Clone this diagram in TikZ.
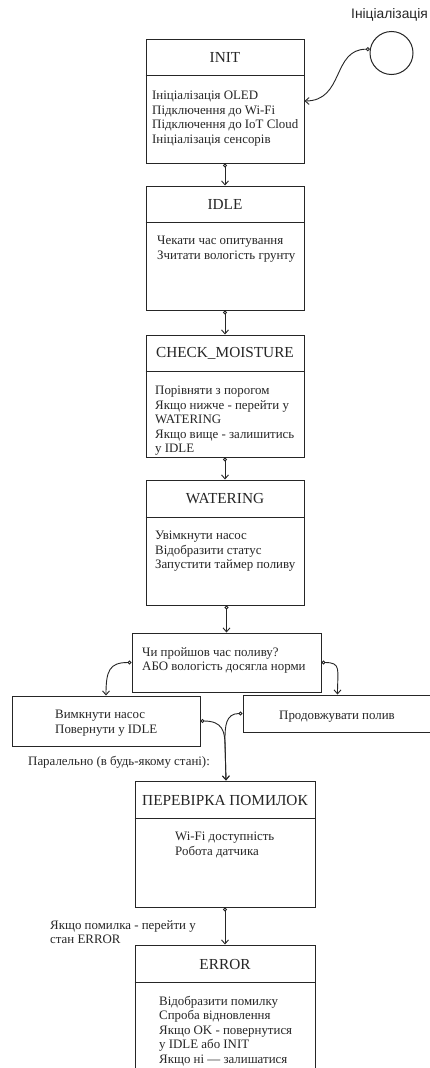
\documentclass[tikz,border=0pt]{standalone}
\usepackage{fontspec}
\setmainfont{Liberation Serif}
\newfontfamily\lsans{Liberation Sans}
\usetikzlibrary{arrows.meta,calc}
\begin{document}
\begin{tikzpicture}[x=1pt,y=-1pt,
  box/.style={draw=black!85, line width=1pt, rectangle, inner sep=0pt},
  hdr/.style={font=\fontsize{15.3}{17}\selectfont, text=black!85, inner sep=0pt},
  body/.style={font=\fontsize{12.9}{14.5}\selectfont, text=black!85, align=left, inner sep=0pt, anchor=north west},
  conn/.style={draw=black!85, line width=0.9pt, {Circle[open,length=4pt,width=4pt]}-{Straight Barb[length=4pt,width=7pt]}},
]
\useasboundingbox (0,0) rectangle (429,1068);
\fill[white] (0,0) rectangle (429,1068);

% start circle
\node[draw=black!85, line width=1pt, circle, minimum size=43pt, inner sep=0pt] (initc) at (391.5,53) {};
\node[font=\lsans\fontsize{13.8}{16}\selectfont, text=black!85, anchor=west, inner sep=0pt] (initlbl) at (351,15) {Ініціалізація};

% INIT
\node[box, minimum width=158pt, minimum height=124pt] (init) at (225,101) {};
\draw[black!85, line width=1pt] ($(init.north west)+(0,37)$) -- ($(init.north east)+(0,37)$);
\node[hdr] (inith) at (225,57.5) {INIT};
\node[body] (initb) at (152,91) {Ініціалізація OLED\\Підключення до Wi-Fi\\Підключення до IoT Cloud\\Ініціалізація сенсорів};

% IDLE
\node[box, minimum width=158pt, minimum height=124pt] (idle) at (225,248) {};
\draw[black!85, line width=1pt] ($(idle.north west)+(0,37)$) -- ($(idle.north east)+(0,37)$);
\node[hdr] (idleh) at (225,204.5) {IDLE};
\node[body] (idleb) at (157,236) {Чекати час опитування\\Зчитати вологість грунту};

% CHECK_MOISTURE
\node[box, minimum width=158pt, minimum height=122pt] (check) at (225,396) {};
\draw[black!85, line width=1pt] ($(check.north west)+(0,37)$) -- ($(check.north east)+(0,37)$);
\node[hdr] (checkh) at (225,353.5) {CHECK\_MOISTURE};
\node[body] (checkb) at (155,386) {Порівняти з порогом\\Якщо нижче - перейти у\\WATERING\\Якщо вище - залишитись\\у IDLE};

% WATERING
\node[box, minimum width=158pt, minimum height=125pt] (water) at (225,542.5) {};
\draw[black!85, line width=1pt] ($(water.north west)+(0,38)$) -- ($(water.north east)+(0,38)$);
\node[hdr] (waterh) at (225,499) {WATERING};
\node[body] (waterb) at (155,531) {Увімкнути насос\\Відобразити статус\\Запустити таймер поливу};

% decision
\node[box, minimum width=189pt, minimum height=59pt] (dec) at (226.5,662.5) {};
\node[body] (decb) at (142,647) {Чи пройшов час поливу?\\АБО вологість досягла норми};

% left / right
\node[box, minimum width=188pt, minimum height=50pt] (left) at (106,721) {};
\node[body] (leftb) at (55,710) {Вимкнути насос\\Повернути у IDLE};
\node[box, minimum width=189pt, minimum height=37pt] (right) at (337.5,713.5) {};
\node[body] (rightb) at (279,711) {Продовжувати полив};

\node[body] (par) at (28,756) {Паралельно (в будь-якому стані):};

% ПЕРЕВІРКА
\node[box, minimum width=180pt, minimum height=126pt] (per) at (225,844) {};
\draw[black!85, line width=1pt] ($(per.north west)+(0,38)$) -- ($(per.north east)+(0,38)$);
\node[hdr] (perh) at (225,800) {ПЕРЕВІРКА ПОМИЛОК};
\node[body] (perb) at (175,832) {Wi-Fi доступність\\Робота датчика};

\node[body] (errlbl) at (50,920) {Якщо помилка - перейти у\\стан ERROR};

% ERROR
\node[box, minimum width=180pt, minimum height=130pt] (err) at (225,1010) {};
\draw[black!85, line width=1pt] ($(err.north west)+(0,38)$) -- ($(err.north east)+(0,38)$);
\node[hdr] (errh) at (225,964) {ERROR};
\node[body] (errb) at (159,996) {Відобразити помилку\\Спроба відновлення\\Якщо OK - повернутися\\у IDLE або INIT\\Якщо ні — залишатися};

% connectors
\draw[conn] (initc.170) .. controls +(-38,0) and +(40,0) .. (init.east);
\draw[conn] (init.south) -- (idle.north);
\draw[conn] (idle.south) -- (check.north);
\draw[conn] (check.south) -- (water.north);
\draw[conn] ($(water.south)+(1.5,0)$) -- (dec.north);
\draw[conn] (dec.west) .. controls +(-22,0) and +(0,-25) .. (left.north);
\draw[conn] (dec.east) .. controls +(20,0) and +(0,-25) .. (right.north);
\draw[conn] (left.east) .. controls +(22,0) and +(0,-14) .. ($(per.north)+(0,-35)$) -- ($(per.north)+(1,0)$);
\draw[conn] (right.west) .. controls +(-17,0) and +(0,-14) .. ($(per.north)+(0,-40)$) -- ($(per.north)+(1,0)$);
\draw[conn] (per.south) -- (err.north);
\end{tikzpicture}
\end{document}
